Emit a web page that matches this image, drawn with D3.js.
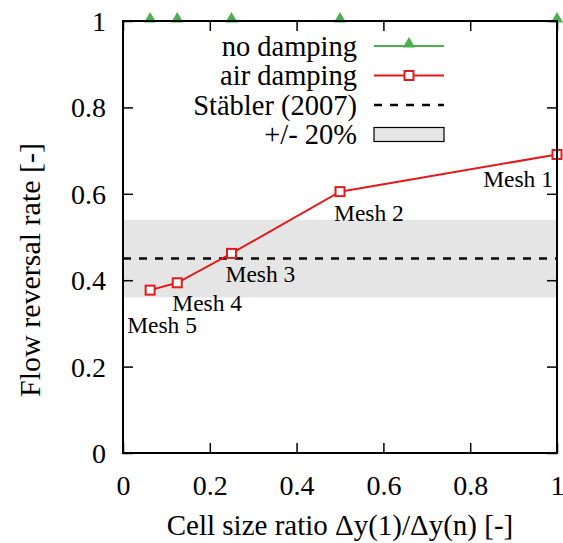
<!DOCTYPE html>
<html>
<head>
<meta charset="utf-8">
<script src="https://cdn.jsdelivr.net/npm/d3@7"></script>
<style>
  body { margin: 0; background: #fff; }
  svg { display: block; }
  svg text { font-family: "Liberation Serif", "DejaVu Serif", "Times New Roman", serif !important; fill: #000; }
</style>
</head>
<body>
<svg id="canvas" width="563" height="543"></svg>
<script>
// data
const cellRatio = [0.0625, 0.125, 0.25, 0.5, 1];
const noDamping = [1, 1, 1, 1, 1];
const airDamping = [0.377, 0.394, 0.462, 0.605, 0.691];
const meshLabels = ["Mesh 5", "Mesh 4", "Mesh 3", "Mesh 2", "Mesh 1"];
const stabler = 0.45;
const band = [0.36, 0.54];
const xTicks = [0, 0.2, 0.4, 0.6, 0.8, 1];
const yTicks = [0, 0.2, 0.4, 0.6, 0.8, 1];
const legendItems = ["no damping", "air damping", "Stäbler (2007)", "+/- 20%"];

// label offsets from their point (px)
const labelOffsets = [[-23, 43, "start"], [-5, 28, "start"], [-6, 29, "start"], [-6, 29, "start"], [-4, 33, "end"]];

const svg = d3.select("#canvas");
const margin = { left: 123, right: 6, top: 21, bottom: 90 };
const width = 563 - margin.left - margin.right;
const height = 543 - margin.top - margin.bottom;

const x = d3.scaleLinear().domain([0, 1]).range([0, width]);
const y = d3.scaleLinear().domain([0, 1]).range([height, 0]);

const g = svg.append("g").attr("transform", `translate(${margin.left},${margin.top})`);

// +/- 20% band
g.append("rect")
  .attr("x", 0)
  .attr("y", y(band[1]))
  .attr("width", width)
  .attr("height", y(band[0]) - y(band[1]))
  .attr("fill", "#e5e5e5");

// Stabler line
g.append("line")
  .attr("x1", 0).attr("x2", width)
  .attr("y1", y(stabler)).attr("y2", y(stabler))
  .attr("stroke", "#000").attr("stroke-width", 2.5)
  .attr("stroke-dasharray", "8,8");

// axes with mirrored inward ticks
const fmt = (d) => (d === 0 || d === 1 ? d3.format("d")(d) : d3.format(".1f")(d));
const tickLen = 10;

const xAxis = g.append("g").attr("transform", `translate(0,${height})`)
  .call(d3.axisBottom(x).tickValues(xTicks).tickFormat(fmt).tickSizeInner(-tickLen).tickSizeOuter(0).tickPadding(22));
const xTop = g.append("g")
  .call(d3.axisTop(x).tickValues(xTicks).tickFormat("").tickSizeInner(-tickLen).tickSizeOuter(0));
const yAxis = g.append("g")
  .call(d3.axisLeft(y).tickValues(yTicks).tickFormat(fmt).tickSizeInner(-tickLen).tickSizeOuter(0).tickPadding(17));
const yRight = g.append("g").attr("transform", `translate(${width},0)`)
  .call(d3.axisRight(y).tickValues(yTicks).tickFormat("").tickSizeInner(-tickLen).tickSizeOuter(0));

[xAxis, xTop, yAxis, yRight].forEach((a) => {
  a.attr("font-family", null);
  a.select(".domain").remove();
  a.selectAll("line").attr("stroke", "#000").attr("stroke-width", 1.5);
  a.selectAll("text").style("font-size", "28px");
});
xAxis.selectAll("text").attr("dy", "0.71em");
yAxis.selectAll("text").attr("dy", "0.34em");

// no damping
const line = d3.line().x((d) => x(d[0])).y((d) => y(d[1]));
const green = "#4caf50";
const red = "#e31a1c";

g.append("path")
  .datum(cellRatio.map((c, i) => [c, noDamping[i]]))
  .attr("d", line)
  .attr("fill", "none").attr("stroke", green).attr("stroke-width", 2);

const tri = d3.symbol().type(d3.symbolTriangle).size(65);
g.selectAll(".tri")
  .data(cellRatio.map((c, i) => [c, noDamping[i]]))
  .enter().append("path")
  .attr("class", "tri")
  .attr("d", tri)
  .attr("transform", (d) => `translate(${x(d[0])},${y(d[1]) - 2})`)
  .attr("fill", green);

// air damping
const airPts = cellRatio.map((c, i) => [c, airDamping[i]]);
g.append("path")
  .datum(airPts)
  .attr("d", line)
  .attr("fill", "none").attr("stroke", red).attr("stroke-width", 2);

g.selectAll(".sq")
  .data(airPts)
  .enter().append("rect")
  .attr("class", "sq")
  .attr("x", (d) => x(d[0]) - 4.5)
  .attr("y", (d) => y(d[1]) - 4.5)
  .attr("width", 9).attr("height", 9)
  .attr("fill", "#fff").attr("stroke", red).attr("stroke-width", 2);

// mesh labels
g.selectAll(".mesh")
  .data(airPts)
  .enter().append("text")
  .attr("class", "mesh")
  .attr("x", (d, i) => x(d[0]) + labelOffsets[i][0])
  .attr("y", (d, i) => y(d[1]) + labelOffsets[i][1])
  .attr("text-anchor", (d, i) => labelOffsets[i][2])
  .style("font-size", "23.5px")
  .text((d, i) => meshLabels[i]);

// frame
g.append("rect")
  .attr("width", width).attr("height", height)
  .attr("fill", "none").attr("stroke", "#000").attr("stroke-width", 2);

// legend
const legend = g.append("g");
const rowY = (i) => 25 + i * 29.5;
const sx0 = 251, sx1 = 321, textX = 234;

legend.selectAll("text")
  .data(legendItems)
  .enter().append("text")
  .attr("x", textX)
  .attr("y", (d, i) => rowY(i))
  .attr("dy", "0.35em")
  .attr("text-anchor", "end")
  .style("font-size", "28.5px")
  .text((d) => d);

legend.append("line").attr("x1", sx0).attr("x2", sx1).attr("y1", rowY(0)).attr("y2", rowY(0))
  .attr("stroke", green).attr("stroke-width", 2);
legend.append("path").attr("d", tri)
  .attr("transform", `translate(${(sx0 + sx1) / 2},${rowY(0) - 2})`).attr("fill", green);
legend.append("line").attr("x1", sx0).attr("x2", sx1).attr("y1", rowY(1)).attr("y2", rowY(1))
  .attr("stroke", red).attr("stroke-width", 2);
legend.append("rect").attr("x", (sx0 + sx1) / 2 - 4.5).attr("y", rowY(1) - 4.5)
  .attr("width", 9).attr("height", 9)
  .attr("fill", "#fff").attr("stroke", red).attr("stroke-width", 2);
legend.append("line").attr("x1", sx0).attr("x2", sx1).attr("y1", rowY(2)).attr("y2", rowY(2))
  .attr("stroke", "#000").attr("stroke-width", 2.5).attr("stroke-dasharray", "8,8");
legend.append("rect").attr("x", sx0).attr("y", rowY(3) - 7)
  .attr("width", sx1 - sx0).attr("height", 14)
  .attr("fill", "#e5e5e5").attr("stroke", "#000").attr("stroke-width", 1.2);

// axis titles
svg.append("text")
  .attr("x", margin.left + width / 2)
  .attr("y", 535)
  .attr("text-anchor", "middle")
  .style("font-size", "29px")
  .text("Cell size ratio Δy(1)/Δy(n) [-]");

svg.append("text")
  .attr("transform", `translate(40,${margin.top + height / 2 + 33}) rotate(-90)`)
  .attr("text-anchor", "middle")
  .style("font-size", "30px")
  .text("Flow reversal rate [-]");
</script>
</body>
</html>
